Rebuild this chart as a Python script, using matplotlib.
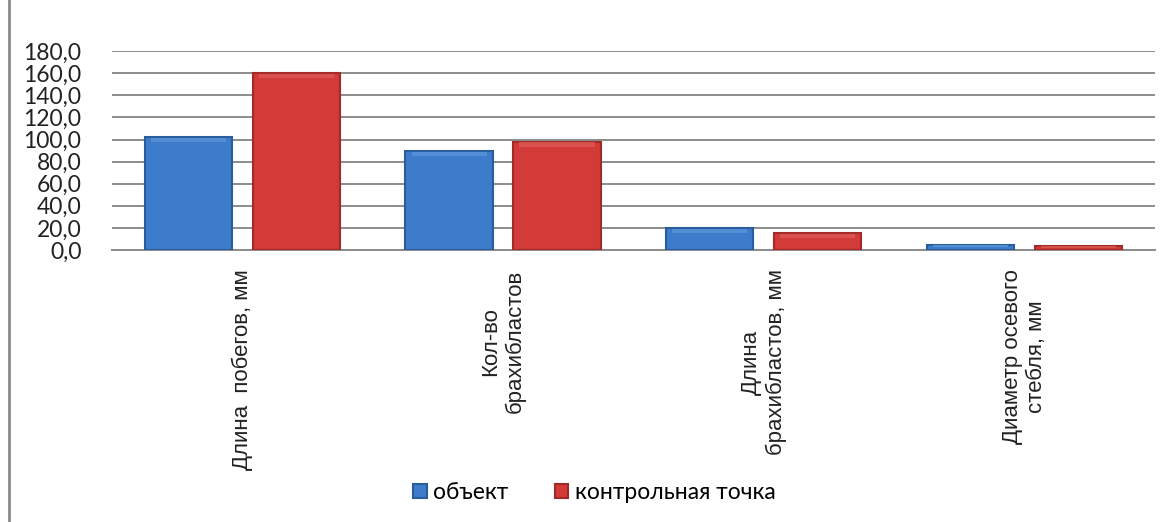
import matplotlib.pyplot as plt
import numpy as np
from matplotlib.patches import Rectangle

categories = ['Длина  побегов, мм', 'Кол-во\nбрахибластов',
              'Длина\nбрахибластов, мм', 'Диаметр осевого\nстебля, мм']
obj_values = [102.0, 89.5, 20.0, 4.5]
ctrl_values = [160.0, 98.0, 15.5, 3.5]
series_names = ['объект', 'контрольная точка']
yticks = np.arange(0, 181, 20)

fig = plt.figure(figsize=(11.7, 5.22), dpi=100)
ax = fig.add_axes([0.0957, 0.521, 0.8913, 0.381])

x = np.arange(len(categories))
w = 0.335
off = 0.207

def bevel_bars(pos, vals, face, edge, light, label):
    bars = ax.bar(pos, vals, w, color=face, edgecolor=edge, linewidth=1.5,
                  label=label, zorder=3)
    # soft highlight near the top of each bar
    for b, v in zip(bars, vals):
        h = min(4.0, v * 0.3)
        ax.bar(b.get_x() + w / 2, h, w * 0.86, bottom=v - h * 1.15,
               color=light, alpha=0.8, linewidth=0, zorder=4)
    return bars

bevel_bars(x - off, obj_values, '#3d7cca', '#2a5d9e', '#5a95da', series_names[0])
bevel_bars(x + off, ctrl_values, '#d23b38', '#a22a28', '#dd5753', series_names[1])

ax.set_xlim(-0.5, len(categories) - 0.5)
ax.set_ylim(0, 180)
ax.set_yticks(yticks)
ax.set_yticklabels([f'{v:.1f}'.replace('.', ',') for v in yticks],
                   fontsize=16.5, family=['Lato', 'DejaVu Sans'], color='#222222')
ax.yaxis.grid(True, color='#8c8c8c', linewidth=1.4, zorder=0)
ax.set_axisbelow(True)
ax.tick_params(axis='y', length=0, pad=22)
ax.tick_params(axis='x', length=0, pad=14)
ax.set_xticks(x)
ax.set_xticklabels(categories, rotation=90, ha='center', va='top',
                   multialignment='center', fontsize=16,
                   family=['Liberation Sans', 'DejaVu Sans'], color='#222222')
for s in ax.spines.values():
    s.set_visible(False)
ax.spines['bottom'].set_visible(True)
ax.spines['bottom'].set_color('#8c8c8c')
ax.spines['bottom'].set_linewidth(1.4)

leg = fig.legend(loc='center', bbox_to_anchor=(0.508, 0.056), ncol=2,
                 frameon=False, handlelength=0.6, handleheight=0.6,
                 handletextpad=0.3, columnspacing=2.0,
                 prop={'family': ['Lato', 'DejaVu Sans'], 'size': 16.5})

# outer chart border, running off the right and bottom edges
fig.patches.append(Rectangle((9 / 1170, -0.1), 1.2, 1.1 + (1 - 11 / 522),
                             transform=fig.transFigure, fill=False,
                             edgecolor='#8a8a8a', linewidth=2))

fig.savefig('out.png', dpi=100)
